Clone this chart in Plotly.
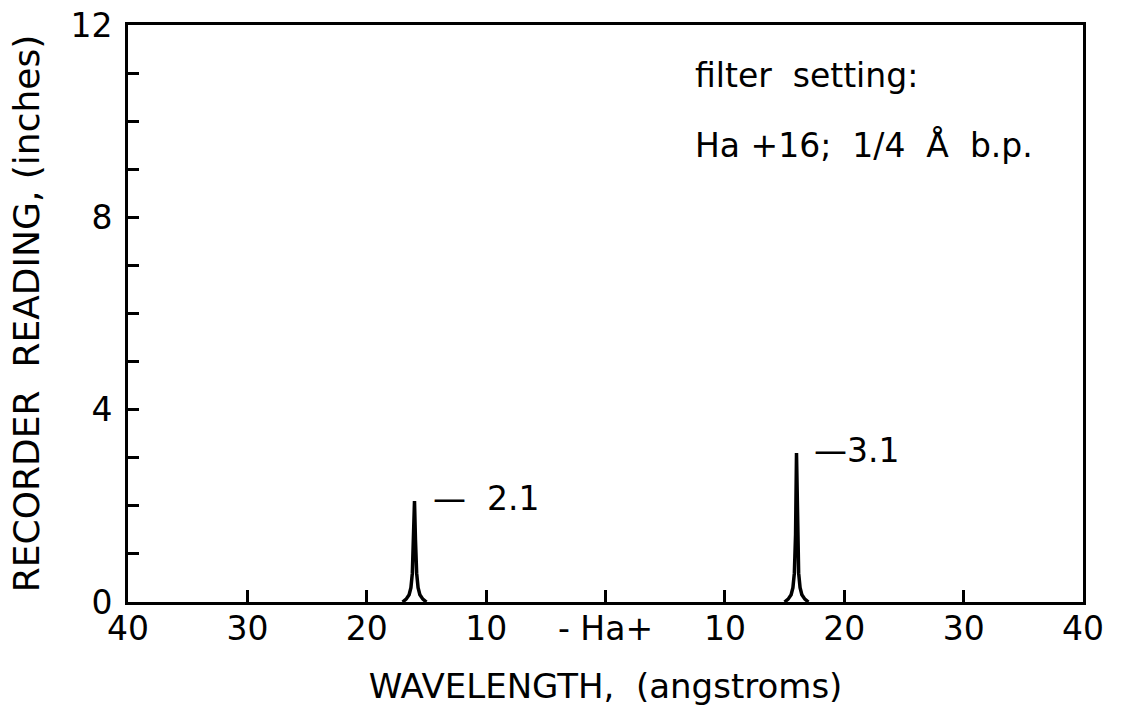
import plotly.graph_objects as go

# ---- data ----
tick_vals = [-40, -30, -20, -10, 0, 10, 20, 30, 40]
tick_text = ["40", "30", "20", "10", "- Ha+", "10", "20", "30", "40"]

peak_centers = [-16, 16]
peak_heights = [2.1, 3.1]

peak1_x = [-17.0, -16.7, -16.45, -16.3, -16.18, -16.08, -16.0, -15.92, -15.82, -15.7, -15.55, -15.3, -15.0]
peak1_y = [0.0, 0.06, 0.15, 0.30, 0.60, 1.30, 2.10, 1.30, 0.60, 0.30, 0.15, 0.06, 0.0]

peak2_x = [15.0, 15.3, 15.55, 15.7, 15.82, 15.92, 16.0, 16.08, 16.18, 16.3, 16.45, 16.7, 17.0]
peak2_y = [0.0, 0.06, 0.15, 0.30, 0.60, 1.40, 3.10, 1.40, 0.60, 0.30, 0.15, 0.06, 0.0]

FONT = "DejaVu Sans"

fig = go.Figure()
for xs, ys in [(peak1_x, peak1_y), (peak2_x, peak2_y)]:
    fig.add_trace(go.Scatter(x=xs, y=ys, mode="lines",
                             line=dict(color="black", width=3.5),
                             showlegend=False, hoverinfo="skip"))

# peak value labels
label_offsets = [1.4, 1.3]
label_texts = ["—\u00a0\u00a0" + f"{peak_heights[0]}", "—" + f"{peak_heights[1]}"]
for c, h, off, t in zip(peak_centers, peak_heights, label_offsets, label_texts):
    fig.add_annotation(x=c + off, y=h + 0.05, text=t, showarrow=False,
                       xanchor="left", yanchor="middle",
                       font=dict(family=FONT, size=33, color="black"))

# filter setting text
fig.add_annotation(x=7.35, y=10.96, text="filter\u00a0 setting:", showarrow=False,
                   xanchor="left", yanchor="middle",
                   font=dict(family=FONT, size=33, color="black"))
fig.add_annotation(x=7.35, y=9.5, text="Ha\u00a0+16;\u00a0 1/4\u00a0 Å\u00a0 b.p.", showarrow=False,
                   xanchor="left", yanchor="middle",
                   font=dict(family=FONT, size=33, color="black"))

fig.update_layout(
    width=1122, height=721,
    margin=dict(l=128, r=39, t=25, b=119),
    paper_bgcolor="white", plot_bgcolor="white",
    font=dict(family=FONT, color="black"),
)

fig.update_xaxes(
    range=[-40, 40], tickmode="array", tickvals=tick_vals, ticktext=tick_text,
    ticks="inside", ticklen=12, tickwidth=2.5, tickcolor="black",
    showline=True, linewidth=3, linecolor="black", mirror=True,
    showgrid=False, zeroline=False,
    tickfont=dict(family=FONT, size=33, color="black"),
    ticklabelstandoff=-5,
    title=dict(text="WAVELENGTH,\u00a0 (angstroms)", standoff=28,
               font=dict(family=FONT, size=34, color="black")),
    automargin=False,
)
fig.update_yaxes(
    range=[0, 12], tickmode="array", tickvals=[0, 4, 8, 12],
    ticks="inside", ticklen=11, tickwidth=2.5, tickcolor="black",
    minor=dict(ticks="inside", dtick=1, ticklen=11, tickwidth=2.5, tickcolor="black"),
    showline=True, linewidth=3, linecolor="black", mirror=True,
    showgrid=False, zeroline=False,
    tickfont=dict(family=FONT, size=33, color="black"),
    ticklabelstandoff=6,
    title=dict(text="RECORDER\u00a0 READING, (inches)", standoff=20,
               font=dict(family=FONT, size=36, color="black")),
    automargin=False,
)

fig.write_html("out.html")
